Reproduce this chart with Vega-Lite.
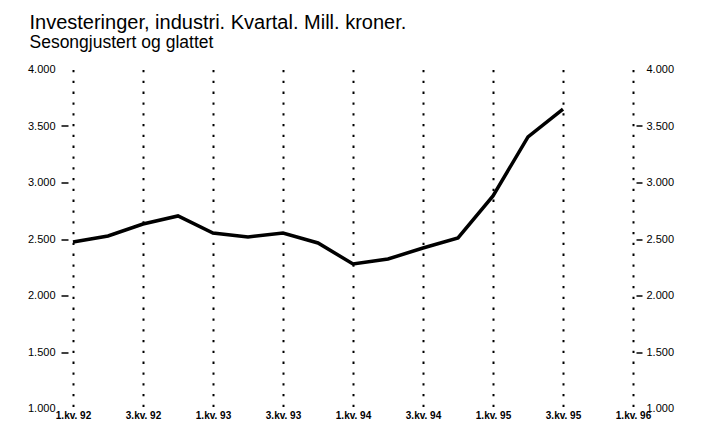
{
  "$schema": "https://vega.github.io/schema/vega-lite/v6.json",
  "width": 560,
  "height": 339,
  "autosize": {"type": "none"},
  "padding": {"left": 73, "top": 69.5, "right": 68, "bottom": 38.5},
  "background": "white",
  "config": {"view": {"stroke": null}},
  "title": {
    "text": "Investeringer, industri. Kvartal. Mill. kroner.",
    "subtitle": "Sesongjustert og glattet",
    "anchor": "start",
    "frame": "bounds",
    "font": "Liberation Sans, sans-serif",
    "fontSize": 20,
    "fontWeight": "normal",
    "color": "black",
    "subtitleFont": "Liberation Sans, sans-serif",
    "subtitleFontSize": 17.5,
    "subtitleColor": "black",
    "subtitlePadding": 1,
    "offset": 12,
    "dx": 2
  },
  "data": {
    "values": [
      {"year": 1992.00, "value": 2473},
      {"year": 1992.25, "value": 2527},
      {"year": 1992.50, "value": 2633},
      {"year": 1992.75, "value": 2704},
      {"year": 1993.00, "value": 2553},
      {"year": 1993.25, "value": 2518},
      {"year": 1993.50, "value": 2553},
      {"year": 1993.75, "value": 2465},
      {"year": 1994.00, "value": 2279},
      {"year": 1994.25, "value": 2323},
      {"year": 1994.50, "value": 2420},
      {"year": 1994.75, "value": 2509},
      {"year": 1995.00, "value": 2881},
      {"year": 1995.25, "value": 3403},
      {"year": 1995.50, "value": 3650}
    ]
  },
  "layer": [
    {
      "mark": {"type": "line", "color": "black", "strokeWidth": 3.5},
      "encoding": {
        "x": {
          "field": "year",
          "type": "quantitative",
          "scale": {"domain": [1992, 1996], "nice": false, "zero": false},
          "axis": {
            "title": null,
            "values": [1992, 1992.5, 1993, 1993.5, 1994, 1994.5, 1995, 1995.5, 1996],
            "labelExpr": "(datum.value % 1 == 0 ? '1' : '3') + '.kv. ' + substring(toString(floor(datum.value)), 2, 4)",
            "domain": false,
            "ticks": false,
            "tickSize": 0,
            "labelPadding": 2,
            "labelFlush": false,
            "labelOverlap": false,
            "labelFont": "Liberation Sans, sans-serif",
            "labelFontSize": 10,
            "labelFontWeight": "bold",
            "labelColor": "black",
            "grid": true,
            "gridColor": "black",
            "gridWidth": 2,
            "gridDash": [2.3, 8.5],
            "gridOpacity": 1
          }
        },
        "y": {
          "field": "value",
          "type": "quantitative",
          "scale": {"domain": [1000, 4000], "nice": false, "zero": false},
          "axis": {
            "title": null,
            "orient": "left",
            "values": [1000, 1500, 2000, 2500, 3000, 3500, 4000],
            "labelExpr": "replace(format(datum.value, ','), ',', '.')",
            "domain": false,
            "grid": false,
            "offset": 5,
            "tickSize": 7,
            "tickWidth": 1.5,
            "tickColor": {"condition": {"test": "datum.value == 1000 || datum.value == 4000", "value": "transparent"}, "value": "black"},
            "labelPadding": 6,
            "labelFont": "Liberation Sans, sans-serif",
            "labelFontSize": 11,
            "labelColor": "black"
          }
        }
      }
    },
    {
      "mark": {"type": "line", "strokeOpacity": 0},
      "encoding": {
        "x": {"field": "year", "type": "quantitative"},
        "y": {
          "field": "value",
          "type": "quantitative",
          "axis": {
            "title": null,
            "orient": "right",
            "values": [1000, 1500, 2000, 2500, 3000, 3500, 4000],
            "labelExpr": "replace(format(datum.value, ','), ',', '.')",
            "domain": false,
            "grid": false,
            "offset": 3,
            "tickSize": 6,
            "tickWidth": 1.5,
            "tickColor": {"condition": {"test": "datum.value == 1000 || datum.value == 4000", "value": "transparent"}, "value": "black"},
            "labelPadding": 4,
            "labelFont": "Liberation Sans, sans-serif",
            "labelFontSize": 11,
            "labelColor": "black"
          }
        }
      }
    }
  ],
  "resolve": {"scale": {"y": "shared", "x": "shared"}, "axis": {"y": "independent"}}
}
